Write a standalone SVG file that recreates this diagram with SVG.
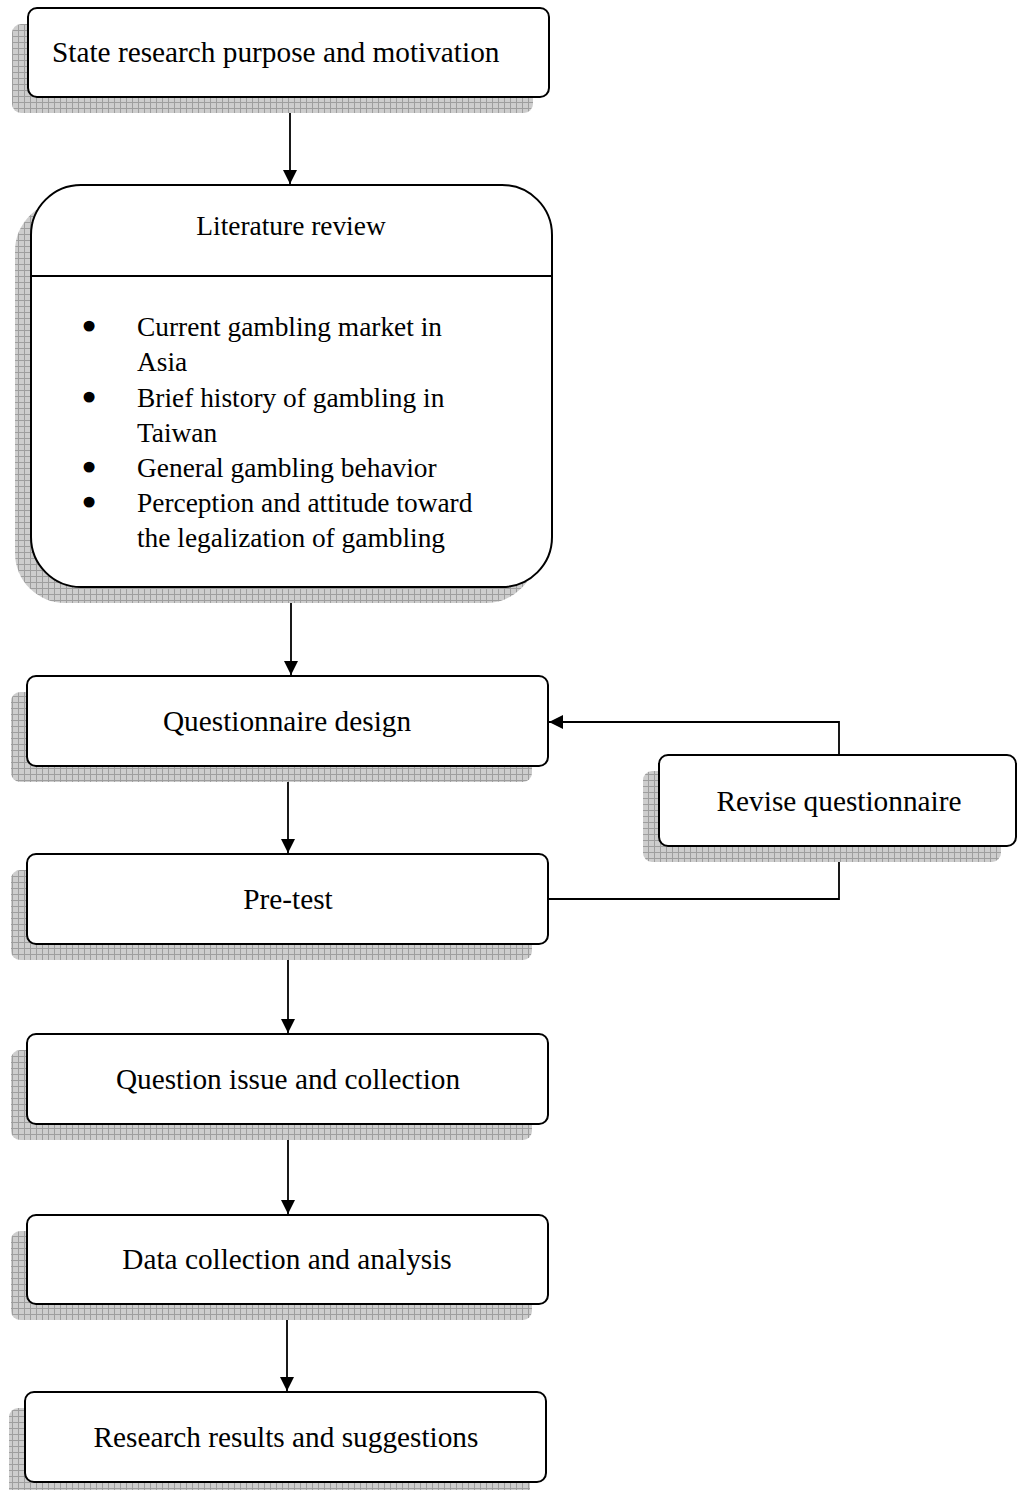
<svg xmlns="http://www.w3.org/2000/svg" width="1017" height="1490" viewBox="0 0 1017 1490">
<style>
.box{fill:#fff;stroke:#000;stroke-width:2}
.sh{fill:url(#grid)}
.t{font-family:"Liberation Serif","Times New Roman",serif;font-size:29.3px;fill:#000}
.l{font-size:27.4px}
.b{font-family:"DejaVu Sans",sans-serif;text-anchor:middle;stroke:#000;stroke-width:3}
.c{text-anchor:middle}
.ln{fill:none;stroke:#000;stroke-width:1.8}
</style>
<defs>
<pattern id="grid" width="6" height="6" patternUnits="userSpaceOnUse">
<rect width="6" height="6" fill="#cdcdcd"/>
<path d="M0 0.5H6M0.5 0V6" stroke="#9e9e9e" stroke-width="1"/>
</pattern>
<marker id="arr" viewBox="0 0 10 10" refX="10" refY="5" markerWidth="14" markerHeight="14" markerUnits="userSpaceOnUse" orient="auto">
<path d="M0 0L10 5L0 10Z" fill="#000"/>
</marker>
</defs>
<g id="connectors">
<line class="ln" x1="290" y1="97" x2="290" y2="184" marker-end="url(#arr)"/>
<line class="ln" x1="291" y1="587" x2="291" y2="675" marker-end="url(#arr)"/>
<line class="ln" x1="288" y1="766" x2="288" y2="853" marker-end="url(#arr)"/>
<line class="ln" x1="288" y1="944" x2="288" y2="1033" marker-end="url(#arr)"/>
<line class="ln" x1="288" y1="1124" x2="288" y2="1214" marker-end="url(#arr)"/>
<line class="ln" x1="287" y1="1304" x2="287" y2="1391" marker-end="url(#arr)"/>
<polyline class="ln" points="548,899 839,899 839,846"/>
<polyline class="ln" points="839,755 839,722 549,722" marker-end="url(#arr)"/>
</g>
<g id="n1">
<rect class="sh" x="12" y="24" width="521" height="89" rx="9"/>
<rect class="box" x="28" y="8" width="521" height="89" rx="9"/>
<text class="t" x="52" y="62">State research purpose and motivation</text>
</g>
<g id="n2">
<rect class="sh" x="15" y="201" width="521" height="402" rx="50"/>
<rect class="box" x="31" y="185" width="521" height="402" rx="50"/>
<line x1="31" y1="276" x2="552" y2="276" stroke="#000" stroke-width="2"/>
<text class="t l c" x="291" y="235">Literature review</text>
<g class="t l">
<text class="b" x="89" y="336">•</text>
<text x="137" y="336">Current gambling market in</text>
<text x="137" y="371">Asia</text>
<text class="b" x="89" y="407">•</text>
<text x="137" y="407">Brief history of gambling in</text>
<text x="137" y="442">Taiwan</text>
<text class="b" x="89" y="477">•</text>
<text x="137" y="477">General gambling behavior</text>
<text class="b" x="89" y="512">•</text>
<text x="137" y="512">Perception and attitude toward</text>
<text x="137" y="547">the legalization of gambling</text>
</g>
</g>
<g id="n3">
<rect class="sh" x="11" y="692" width="521" height="90" rx="9"/>
<rect class="box" x="27" y="676" width="521" height="90" rx="9"/>
<text class="t c" x="287" y="731">Questionnaire design</text>
</g>
<g id="n4">
<rect class="sh" x="643" y="771" width="358" height="91" rx="9"/>
<rect class="box" x="659" y="755" width="357" height="91" rx="9"/>
<text class="t c" x="839" y="811">Revise questionnaire</text>
</g>
<g id="n5">
<rect class="sh" x="11" y="870" width="521" height="90" rx="9"/>
<rect class="box" x="27" y="854" width="521" height="90" rx="9"/>
<text class="t c" x="288" y="909">Pre-test</text>
</g>
<g id="n6">
<rect class="sh" x="11" y="1050" width="521" height="90" rx="9"/>
<rect class="box" x="27" y="1034" width="521" height="90" rx="9"/>
<text class="t c" x="288" y="1089">Question issue and collection</text>
</g>
<g id="n7">
<rect class="sh" x="11" y="1231" width="521" height="89" rx="9"/>
<rect class="box" x="27" y="1215" width="521" height="89" rx="9"/>
<text class="t c" x="287" y="1269">Data collection and analysis</text>
</g>
<g id="n8">
<rect class="sh" x="9" y="1408" width="521" height="90" rx="9"/>
<rect class="box" x="25" y="1392" width="521" height="90" rx="9"/>
<text class="t c" x="286" y="1447">Research results and suggestions</text>
</g>
</svg>
